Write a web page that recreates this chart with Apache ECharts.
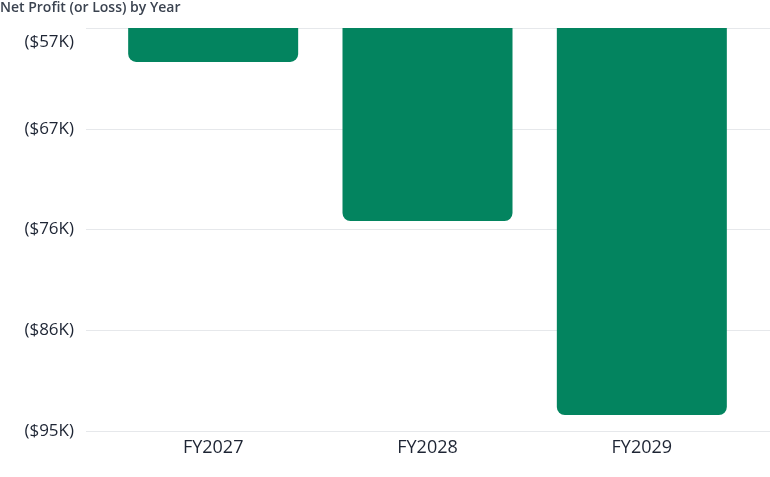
<!DOCTYPE html>
<html>
<head>
<meta charset="utf-8">
<title>Net Profit (or Loss) by Year</title>
<script src="https://cdn.jsdelivr.net/npm/echarts@6/dist/echarts.min.js"></script>
<style>
  html, body { margin: 0; padding: 0; background: #ffffff; }
  #chart { width: 770px; height: 477px; }
</style>
</head>
<body>
<div id="chart"></div>
<script>
"use strict";

// data, in thousands of dollars (losses are negative)
const years = ["FY2027", "FY2028", "FY2029"];
const netProfit = [-60.4, -75.4, -93.7];

// value axis range as drawn: ($95K) at the bottom, ($57K) at the top
const axisMin = -95.2;
const axisMax = -57.2;
const axisStep = 9.5;

const Theme = {
    green: "#03845f",
    text: "#1e2534",
    title: "#3b4350",
    grid: "#e6e8eb",
    font: "'Open Sans', 'Noto Sans', sans-serif"
};

function moneyLabel(v){
    const k = Math.round(Math.abs(v));
    return v < 0 ? "($" + k + "K)" : "$" + k + "K";
}

const chart = echarts.init(document.getElementById("chart"));

chart.setOption({
    animation: false,
    textStyle: { fontFamily: Theme.font },
    title: {
        text: "Net Profit (or Loss) by Year",
        left: 0,
        top: 0,
        padding: [1, 0, 0, 0],
        textStyle: { fontSize: 14, fontWeight: 600, color: Theme.title, fontFamily: Theme.font }
    },
    grid: [
        // wide grid: carries the y labels and the full-width grid lines
        { left: 86, right: 0, top: 28, bottom: 46 },
        // inner grid: carries the bars and the category labels
        { left: 106, right: 21, top: 28, bottom: 46 }
    ],
    xAxis: [
        { gridIndex: 0, type: "category", data: years, show: false },
        {
            gridIndex: 1,
            type: "category",
            data: years,
            axisLine: { show: false },
            axisTick: { show: false },
            axisLabel: { color: Theme.text, fontSize: 18, margin: 8, fontFamily: Theme.font }
        }
    ],
    yAxis: [
        {
            gridIndex: 0,
            type: "value",
            min: axisMin,
            max: axisMax,
            interval: axisStep,
            axisLine: { show: false },
            axisTick: { show: false },
            splitLine: { lineStyle: { color: Theme.grid, width: 1 } },
            axisLabel: {
                color: Theme.text,
                fontSize: 17,
                margin: 12,
                fontFamily: Theme.font,
                formatter: function(v){
                    if(Math.abs(v - axisMax) < 0.01) return "{top|" + moneyLabel(v) + "}";
                    return moneyLabel(v);
                },
                rich: {
                    top: { color: Theme.text, fontSize: 17, fontFamily: Theme.font, padding: [28, 0, 0, 0] }
                }
            }
        },
        {
            gridIndex: 1,
            type: "value",
            min: axisMin,
            max: axisMax,
            interval: axisStep,
            show: false,
            splitLine: { show: false }
        }
    ],
    series: [{
        type: "bar",
        xAxisIndex: 1,
        yAxisIndex: 1,
        data: netProfit,
        barWidth: 170,
        clip: true,
        itemStyle: { color: Theme.green, borderRadius: [0, 0, 8, 8] }
    }]
});
</script>
</body>
</html>
